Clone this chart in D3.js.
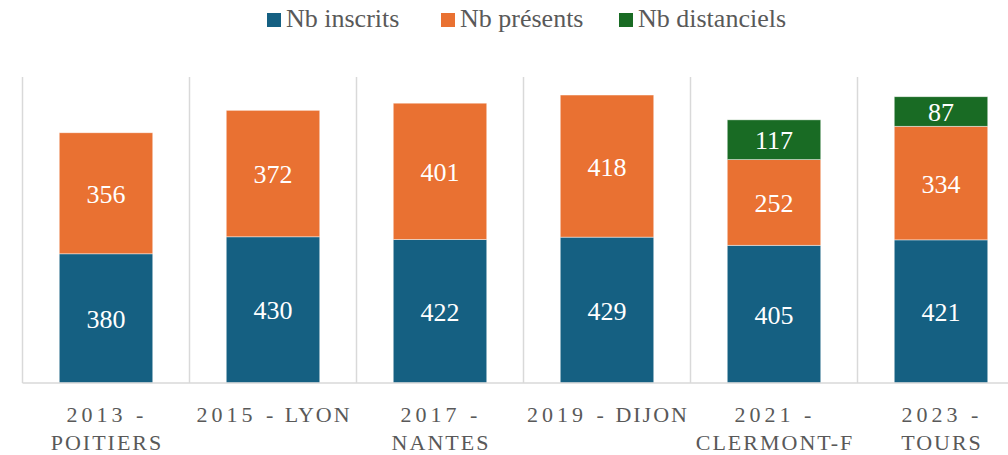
<!DOCTYPE html>
<html>
<head>
<meta charset="utf-8">
<script src="https://cdn.jsdelivr.net/npm/d3@7"></script>
<style>
	body { margin: 0; background: #fff; }
</style>
</head>
<body>
<div id="chart"></div>
<script>
// Data
var categories = ["2013", "2015", "2017", "2019", "2021", "2023"];
var tickLabels = [
	["2013 -", "POITIERS"],
	["2015 - LYON"],
	["2017 -", "NANTES"],
	["2019 - DIJON"],
	["2021 -", "CLERMONT-F"],
	["2023 -", "TOURS"]
];
var seriesNames = ["Nb inscrits", "Nb présents", "Nb distanciels"];
var inscrits = [380, 430, 422, 429, 405, 421];
var presents = [356, 372, 401, 418, 252, 334];
var distanciels = [0, 0, 0, 0, 117, 87];
var colors = ["#156082", "#e97132", "#196b24"];

var width = 1008,
	height = 455,
	baseY = 383,
	topY = 77,
	fontFam = "Liberation Serif";

var svg = d3.select("#chart").append("svg")
	.attr("width", width)
	.attr("height", height)
	.style("font-family", fontFam);

var x = d3.scaleBand()
	.domain(categories)
	.range([22.5, 22.5 + 6 * 167]);

var y = d3.scaleLinear()
	.domain([0, 900])
	.range([baseY, topY]);

// build stacked rows
var rows = categories.map(function(c, i) {
	return { cat: c, s0: inscrits[i], s1: presents[i], s2: distanciels[i] };
});
var stack = d3.stack().keys(["s0", "s1", "s2"]);
var layers = stack(rows);

// vertical separators
svg.append("g")
	.selectAll("line")
	.data(categories)
	.enter().append("line")
	.attr("x1", function(d) { return x(d); })
	.attr("x2", function(d) { return x(d); })
	.attr("y1", y(900))
	.attr("y2", baseY)
	.attr("stroke", "#d9d9d9")
	.attr("stroke-width", 1.5);

var barW = x.bandwidth() * 0.56;

var layer = svg.selectAll("g.layer")
	.data(layers)
	.enter().append("g")
	.attr("class", "layer")
	.attr("fill", function(d, i) { return colors[i]; });

layer.selectAll("rect")
	.data(function(d) { return d.filter(function(p) { return p[1] - p[0] > 0; }); })
	.enter().append("rect")
	.attr("x", function(d) { return x(d.data.cat) + (x.bandwidth() - barW) / 2; })
	.attr("width", barW)
	.attr("y", function(d) { return y(d[1]); })
	.attr("height", function(d) { return y(d[0]) - y(d[1]); })
	.attr("stroke", "#ffffff")
	.attr("stroke-opacity", 0.6)
	.attr("stroke-width", 0.75);

layer.selectAll("text")
	.data(function(d) { return d.filter(function(p) { return p[1] - p[0] > 0; }); })
	.enter().append("text")
	.attr("x", function(d) { return x(d.data.cat) + x.bandwidth() / 2; })
	.attr("y", function(d) { return (y(d[0]) + y(d[1])) / 2 + 9.5; })
	.attr("text-anchor", "middle")
	.attr("fill", "#ffffff")
	.style("font-family", fontFam)
	.attr("font-size", "26px")
	.text(function(d) { return d[1] - d[0]; });

// baseline
svg.append("line")
	.attr("x1", x.range()[0])
	.attr("x2", width)
	.attr("y1", baseY)
	.attr("y2", baseY)
	.attr("stroke", "#d9d9d9")
	.attr("stroke-width", 1.5);

// category labels (year part spaced wider than the city part)
var ticks = svg.append("g")
	.selectAll("text")
	.data(categories)
	.enter().append("text")
	.attr("text-anchor", "middle")
	.attr("fill", "#595959")
	.style("font-family", fontFam)
	.attr("font-size", "22px");

ticks.each(function(d, i) {
	var t = d3.select(this);
	tickLabels[i].forEach(function(line, j) {
		var m = line.match(/^(\d{4} -)(.*)$/);
		var parts = m ? [[m[1], 4], [m[2], 2]] : [[line, 2]];
		parts.forEach(function(p, k) {
			if (!p[0]) return;
			var ts = t.append("tspan")
				.attr("letter-spacing", p[1] + "px")
				.text(p[0]);
			if (k == 0) {
				ts.attr("x", x(d) + x.bandwidth() / 2 + 1)
					.attr("y", 421.5 + j * 28.5);
			}
		});
	});
});

// legend
var legendX = [267, 441, 619];
var legend = svg.append("g")
	.selectAll("g")
	.data(seriesNames)
	.enter().append("g")
	.attr("transform", function(d, i) { return "translate(" + legendX[i] + ",0)"; });

legend.append("rect")
	.attr("x", 0)
	.attr("y", 13)
	.attr("width", 14)
	.attr("height", 14)
	.attr("fill", function(d, i) { return colors[i]; });

legend.append("text")
	.attr("x", 19)
	.attr("y", 27)
	.attr("fill", "#595959")
	.style("font-family", fontFam)
	.attr("font-size", "26px")
	.text(function(d) { return d; });
</script>
</body>
</html>
